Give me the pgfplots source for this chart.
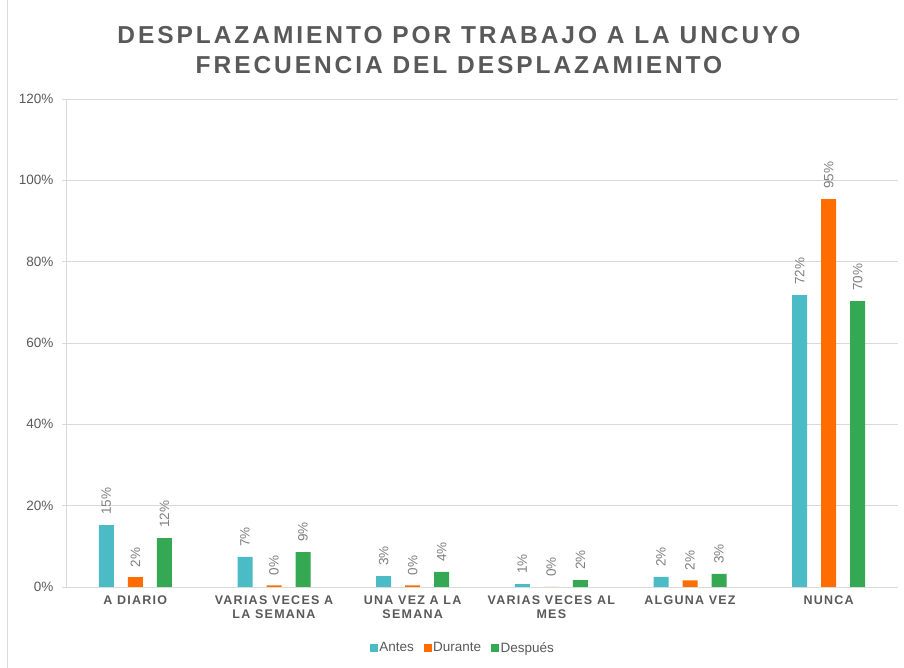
\documentclass[border=0pt]{standalone}
\usepackage{pgfplots}
\pgfplotsset{compat=1.18}
\usepackage{fontspec}
\setmainfont{Liberation Sans}
\newfontfamily\titlefont[LetterSpace=12]{Liberation Sans}
\newfontfamily\catfont[LetterSpace=10]{Liberation Sans}
\definecolor{cA}{HTML}{4BBCC6}
\definecolor{cD}{HTML}{FF6D00}
\definecolor{cP}{HTML}{34A853}
\definecolor{txt}{HTML}{595959}
\definecolor{lbl}{HTML}{7F7F7F}
\definecolor{gridc}{HTML}{D9D9D9}
\begin{document}
\begin{tikzpicture}[x=1pt,y=1pt]
\useasboundingbox (0,0) rectangle (904,668);
\draw[gridc, line width=0.8pt] (7,0) -- (7,668);
\node[font=\titlefont\bfseries\fontsize{24.5}{27}\selectfont, text=txt] at (459,633) {DESPLAZAMIENTO POR TRABAJO A LA UNCUYO};
\node[font=\titlefont\bfseries\fontsize{24.5}{27}\selectfont, text=txt] at (459,603) {FRECUENCIA DEL DESPLAZAMIENTO};
\begin{axis}[
  at={(66pt,81pt)}, anchor=south west,
  scale only axis, width=832pt, height=488pt,
  xmin=-0.5, xmax=5.5, ymin=0, ymax=120,
  ybar, bar width=15pt,
  axis x line*=bottom, axis y line*=left,
  axis line style={gridc, line width=0.8pt},
  ymajorgrids, xmajorgrids=false, major grid style={gridc, line width=0.8pt},
  ytick={0,20,...,120},
  yticklabel={\pgfmathprintnumber{\tick}\%},
  /pgf/number format/assume math mode=true,
  yticklabel style={font=\fontsize{13.5}{15}\selectfont, text=txt, xshift=-5pt},
  ytick style={gridc, line width=0.8pt},
  tick align=outside, major tick length=4pt,
  xtick={0,1,2,3,4,5}, xtick style={draw=none},
  xticklabels={A DIARIO, {VARIAS VECES A\\LA SEMANA}, {UNA VEZ A LA\\SEMANA}, {VARIAS VECES AL\\MES}, ALGUNA VEZ, NUNCA},
  xticklabel style={font=\catfont\bfseries\fontsize{12.5}{14}\selectfont, text=txt, align=center, yshift=-1pt},
  point meta=explicit symbolic,
  nodes near coords,
  every node near coord/.append style={font=\fontsize{13.5}{15}\selectfont, text=lbl, yshift=10pt, rotate=90, anchor=west, inner sep=0pt},
  legend style={at={(0.477,-0.125)}, anchor=center, draw=none, legend columns=3, font=\fontsize{13.5}{15}\selectfont, text=txt, /tikz/every even column/.append style={column sep=8pt}},
  clip=false,
]
\addplot[fill=cA, draw=none, bar shift=-29pt, forget plot] coordinates {(0,15.2)[15\%] (1,7.4)[7\%] (2,2.7)[3\%] (3,0.7)[1\%] (4,2.5)[2\%] (5,71.8)[72\%]};
\addplot[fill=cD, draw=none, bar shift=0pt, forget plot] coordinates {(0,2.4)[2\%] (1,0.4)[0\%] (2,0.4)[0\%] (3,0.0)[0\%] (4,1.6)[2\%] (5,95.4)[95\%]};
\addplot[fill=cP, draw=none, bar shift=29pt, forget plot] coordinates {(0,12.0)[12\%] (1,8.6)[9\%] (2,3.7)[4\%] (3,1.7)[2\%] (4,3.2)[3\%] (5,70.3)[70\%]};
\addlegendimage{legend image code/.code={\fill[cA] (0pt,-3.5pt) rectangle (7pt,3.5pt);}}
\addlegendimage{legend image code/.code={\fill[cD] (0pt,-3.5pt) rectangle (7pt,3.5pt);}}
\addlegendimage{legend image code/.code={\fill[cP] (0pt,-3.5pt) rectangle (7pt,3.5pt);}}
\legend{Antes,Durante,Después}
\end{axis}
\end{tikzpicture}
\end{document}
